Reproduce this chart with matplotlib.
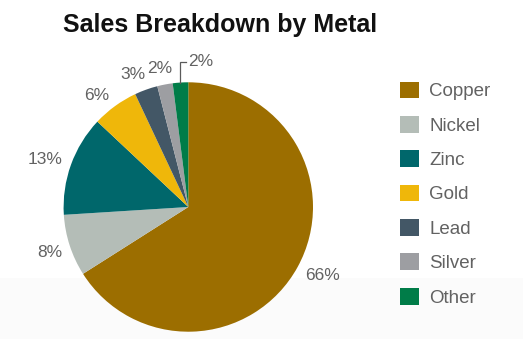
import numpy as np
import matplotlib
matplotlib.use("Agg")
import matplotlib.pyplot as plt
from matplotlib.patches import Rectangle

metals = ["Copper", "Nickel", "Zinc", "Gold", "Lead", "Silver", "Other"]
shares = [66, 8, 13, 6, 3, 2, 2]
colors = ["#9c6e00", "#b4bdb7", "#00676b", "#efb70a", "#435766", "#9d9ea2", "#007c48"]
# label placement: radial distance (in radii) and angular nudge (degrees)
label_dist = [1.21, 1.17, 1.21, 1.16, 1.15, 1.13, None]
label_nudge = [1.7, 0.3, 1.5, 3.3, 3.1, 0.8, 0.0]

plt.rcParams["font.family"] = ["Liberation Sans", "DejaVu Sans"]
TEXT = "#626262"

fig = plt.figure(figsize=(5.23, 3.39), dpi=100)
fig.patch.set_facecolor("white")
fig.patches.append(Rectangle((0, 0), 1, 61 / 339, transform=fig.transFigure,
                             facecolor="#fbfbfb", edgecolor="none", zorder=-5))

cx, cy, r = 188.3, 207.0, 124.7
W, H = 523, 339
ax = fig.add_axes([(cx - r) / W, (H - cy - r) / H, 2 * r / W, 2 * r / H])
ax.patch.set_alpha(0)

wedges, _ = ax.pie(shares, colors=colors, startangle=90, counterclock=False,
                   radius=1.0, wedgeprops=dict(linewidth=0))
ax.set_xlim(-1, 1)
ax.set_ylim(-1, 1)
ax.set_aspect("equal")
ax.axis("off")

for w, val, d, nud in zip(wedges, shares, label_dist, label_nudge):
    mid = np.deg2rad((w.theta1 + w.theta2) / 2)
    txt = f"{val}%"
    if d is not None:
        a = mid + np.deg2rad(nud)
        ax.text(d * np.cos(a), d * np.sin(a), txt, ha="center", va="center",
                fontsize=12.5, color=TEXT, clip_on=False)
    else:
        x0, y0 = np.cos(mid), np.sin(mid)
        ytop = 1.163
        ax.plot([x0, x0, x0 + 0.045], [y0, ytop, ytop], color="#5a5a5a", lw=0.9,
                solid_joinstyle="miter", clip_on=False)
        ax.text(x0 + 0.06, ytop, txt, ha="left", va="center", fontsize=12.5,
                color=TEXT, clip_on=False)

fig.text(63 / W, (H - 32) / H, "Sales Breakdown by Metal", ha="left",
         va="baseline", fontsize=18, fontweight="bold", color="#111111")

leg = fig.legend(wedges, metals, loc="upper left",
                 bbox_to_anchor=(400 / W, (H - 81.5) / H), frameon=False,
                 fontsize=13.5, handlelength=1.0, handleheight=1.0,
                 handletextpad=0.55, labelspacing=0.83, borderpad=0,
                 borderaxespad=0)
for t in leg.get_texts():
    t.set_color(TEXT)

fig.savefig("out.png", dpi=100)
